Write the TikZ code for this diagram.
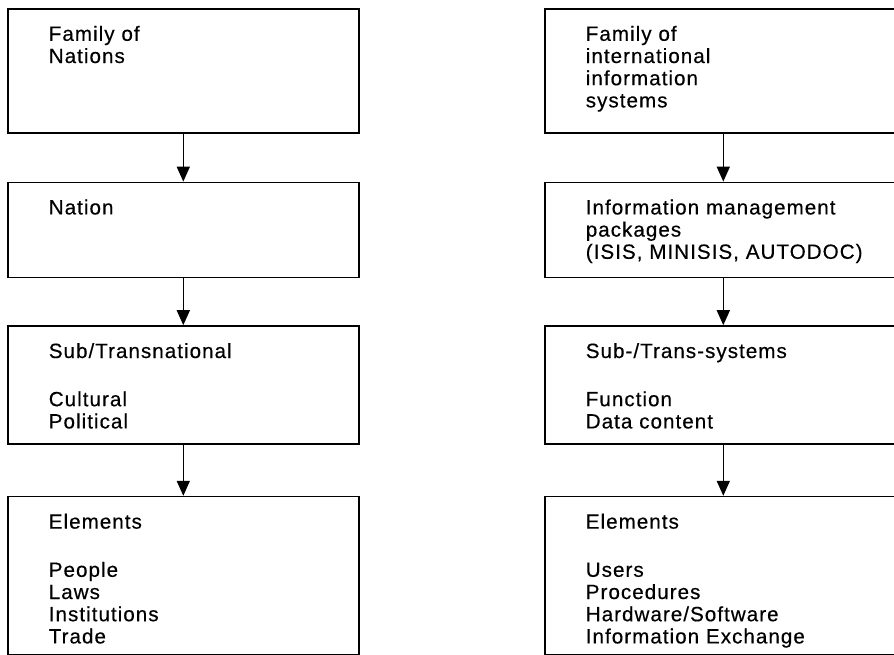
\documentclass[tikz,border=0pt]{standalone}
\usepackage{fontspec}
\setmainfont{Liberation Sans}[LetterSpace=5, FakeBold=0.4]
\usepackage{tikz}
\usetikzlibrary{positioning,arrows.meta}
\tikzstyle{box} = [rectangle, draw, line width=1.6pt, align=left, %
   inner xsep=41pt, inner ysep=0pt, text height=32pt]
\tikzstyle{line} = [draw, line width=1.6pt, -{Triangle[length=15pt,width=13pt]}]

\begin{document}
\begin{tikzpicture}[font={\fontsize{20.6}{22.2}\selectfont}]
   \useasboundingbox (0,0) rectangle (894pt,-654pt);
   \clip (0,0) rectangle (894pt,-654pt);

   % NATIONS %%%%%%%%%%%%%%%%%%%%%%%%%%%%%%%%%%%%%%%%%%%%%%%%%%%%%%%%%
   \node[box, anchor=north west, text width=269pt, text depth=92pt](family) at (7pt,-8pt){%
      Family of\\Nations};
   \node[box, below=48pt of family, text width=269pt, text depth=63pt](nation){Nation};
   \node[box, below=47pt of nation, text width=269pt, text depth=86pt](subnat){%
      Sub/Transnational\\[26pt]Cultural\\Political};
   \node[box, below=51pt of subnat, text width=269pt, text depth=126pt](elements){%
      Elements\\[26pt]People\\Laws\\Institutions\\Trade};

   % INFORMATION SYSTEMS %%%%%%%%%%%%%%%%%%%%%%%%%%%%%%%%%%%%%%%%%%%%%
   \node[box, anchor=north west, text width=275pt, text depth=92pt](infofamily) at (544pt,-8pt){%
      Family of\\international\\information\\systems};
   \node[box, below=48pt of infofamily, text width=275pt, text depth=63pt](packages){%
      Information~management\\packages\\(ISIS,~MINISIS,~AUTODOC)};
   \node[box, below=47pt of packages, text width=275pt, text depth=86pt](subsys){%
      Sub-/Trans-systems\\[26pt]Function\\Data content};
   \node[box, below=51pt of subsys, text width=275pt, text depth=126pt](infoelements){%
      Elements\\[26pt]Users\\Procedures\\Hardware/Software\\Information~Exchange};

   % Draw edges
   \path [line] (family) -- (nation);
   \path [line] (nation) -- (subnat);
   \path [line] (subnat) -- (elements);
   \path [line] (infofamily) -- (packages);
   \path [line] (packages) -- (subsys);
   \path [line] (subsys) -- (infoelements);

\end{tikzpicture}
\end{document}
